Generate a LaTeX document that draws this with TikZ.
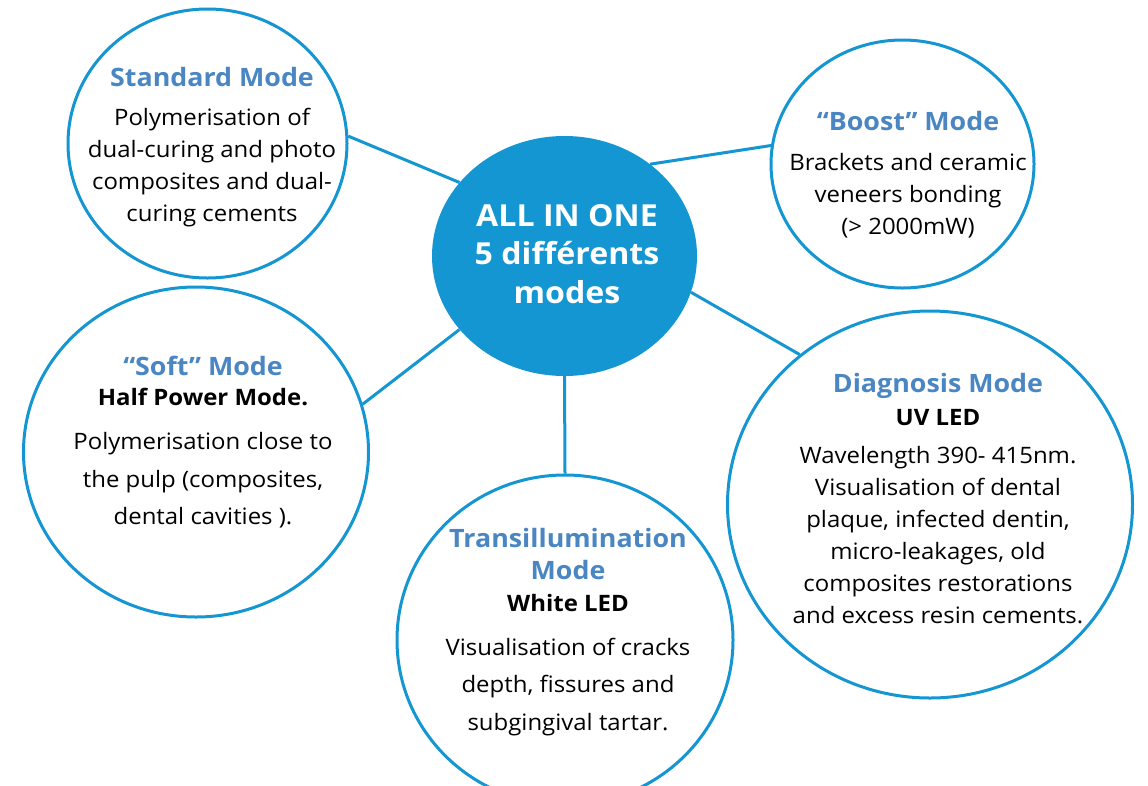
\documentclass[tikz,border=0pt]{standalone}
\usepackage{fontspec}
\setmainfont{Open Sans}[FakeStretch=1.06]
\usetikzlibrary{calc,positioning,shapes.geometric}

\definecolor{ringblue}{RGB}{20,150,210}
\definecolor{headblue}{RGB}{74,134,194}

\tikzset{
  mode/.style={draw=ringblue,line width=3pt,ellipse,fill=white,inner sep=0pt},
  head/.style={font=\bfseries\fontsize{25.3}{32}\selectfont,text=headblue,align=center},
  sub/.style={font=\bfseries\fontsize{22.6}{32}\selectfont,align=center},
  body/.style={font=\fontsize{22.6}{32}\selectfont,align=center},
  loose/.style={font=\fontsize{22.6}{37.5}\selectfont,align=center},
  link/.style={ringblue,line width=3pt}
}

\begin{document}
\begin{tikzpicture}[x=1pt,y=-1pt]
    \clip (0,0) rectangle (1148,785);
    \fill[white] (0,0) rectangle (1148,785);
    % the five modes round the hub
    \node[mode,minimum width=279pt,minimum height=269pt] (std) at (207.5,143.5) {};
    \node[mode,minimum width=263pt,minimum height=248pt] (boost) at (902.5,164) {};
    \node[mode,minimum width=345pt,minimum height=330pt] (soft) at (196,452) {};
    \node[mode,minimum width=336pt,minimum height=330pt] (trans) at (565,640) {};
    \node[mode,minimum width=405pt,minimum height=387pt] (diag) at (930,504.5) {};
    \node[ellipse,fill=ringblue,inner sep=0pt,minimum width=265pt,minimum height=240pt] (hub) at (564.5,256) {};
    \draw[link] (std.3) -- (hub.145);
    \draw[link] (boost.172) -- (hub.47);
    \draw[link] (soft.16) -- (hub.215);
    \draw[link] (diag.131) -- (hub.-16);
    \draw[link] (trans.north) -- (hub.south);
    % texts
    \node[text=white,font=\bfseries\fontsize{30.3}{38.5}\selectfont,align=center] (hubtxt) at ($ (hub) + (2.5,-2) $) {ALL IN ONE\\5 différents\\modes};
    \node[head] (stdhead) at ($ (std) + (4.5,-66.5) $) {Standard Mode};
    \node[body] (stdtxt) at ($ (std) + (4.5,24.5) $) {Polymerisation of\\dual-curing and photo\\composites and dual-\\curing cements};
    \node[head] (boosthead) at ($ (boost) + (5.5,-43) $) {“Boost” Mode};
    \node[body] (boosttxt) at ($ (boost) + (5.5,32) $) {Brackets and ceramic\\veneers bonding\\(> 2000mW)};
    \node[head] (softhead) at ($ (soft) + (7,-86) $) {“Soft” Mode};
    \node[sub] (softsub) at ($ (soft) + (7,-55) $) {Half Power Mode.};
    \node[loose] (softtxt) at ($ (soft) + (7,28.5) $) {Polymerisation close to\\the pulp (composites,\\dental cavities ).};
    \node[head] (transhead) at ($ (trans) + (3,-86) $) {Transillumination\\Mode};
    \node[sub] (transsub) at ($ (trans) + (3,-37) $) {White LED};
    \node[loose] (transtxt) at ($ (trans) + (3,47) $) {Visualisation of cracks\\depth, fissures and\\subgingival tartar.};
    \node[head] (diaghead) at ($ (diag) + (8,-118.5) $) {Diagnosis Mode};
    \node[sub] (diagsub) at ($ (diag) + (8,-86.5) $) {UV LED};
    \node[body] (diagtxt) at ($ (diag) + (8,31) $) {Wavelength 390- 415nm.\\Visualisation of dental\\plaque, infected dentin,\\micro-leakages, old\\composites restorations\\and excess resin cements.};
\end{tikzpicture}
\end{document}
